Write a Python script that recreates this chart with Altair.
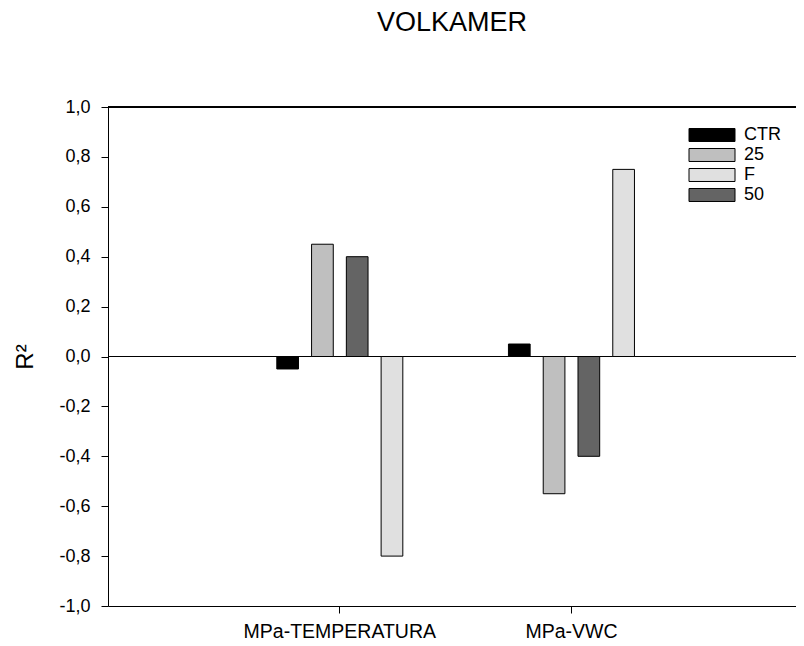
import altair as alt
import pandas as pd

groups = ["MPa-TEMPERATURA", "MPa-VWC"]
series = ["CTR", "25", "50", "F"]
legend_order = ["CTR", "25", "F", "50"]
legend_colors = ["#000000", "#bfbfbf", "#e0e0e0", "#646464"]

ctr_vals = [-0.05, 0.05]
s25_vals = [0.45, -0.55]
s50_vals = [0.40, -0.40]
sF_vals = [-0.80, 0.75]

y_ticks = [-1.0, -0.8, -0.6, -0.4, -0.2, 0.0, 0.2, 0.4, 0.6, 0.8, 1.0]

rows = []
for i, g in enumerate(groups):
    for name, vals in zip(series, [ctr_vals, s25_vals, s50_vals, sF_vals]):
        rows.append({"grupo": g, "serie": name, "r2": vals[i]})
df = pd.DataFrame(rows)

FONT = "Liberation Sans"

base = alt.Chart(df)

bars = base.mark_bar(stroke="black", strokeWidth=1, opacity=1).encode(
    x=alt.X(
        "grupo:N",
        sort=groups,
        scale=alt.Scale(paddingInner=0.456, paddingOuter=0.713, align=0.511),
        axis=alt.Axis(title=None, labelAngle=0, labelFontSize=19.5, tickSize=7,
                      labelPadding=9, labelFont=FONT, labelLimit=0),
    ),
    xOffset=alt.XOffset(
        "serie:N", sort=series,
        scale=alt.Scale(paddingInner=0.376, paddingOuter=0),
    ),
    y=alt.Y(
        "r2:Q",
        scale=alt.Scale(domain=[-1, 1], nice=False, zero=False),
        axis=alt.Axis(
            values=y_ticks,
            title="R²",
            titleFontSize=24,
            titleFont=FONT,
            titleFontWeight="normal",
            titlePadding=21,
            labelFontSize=18,
            labelFont=FONT,
            labelPadding=11,
            tickSize=7,
            labelExpr="replace(replace(format(datum.value, '.1f'), '.', ','), '\u2212', '-')",
        ),
    ),
    color=alt.Color(
        "serie:N",
        scale=alt.Scale(domain=legend_order, range=legend_colors),
        legend=alt.Legend(
            title=None,
            orient="none",
            legendX=595,
            legendY=19,
            symbolType="M-4,-1.13H4V1.13H-4Z",
            symbolSize=132.25,
            symbolStrokeColor="black",
            symbolStrokeWidth=1,
            symbolOpacity=1,
            labelFontSize=18,
            labelFont=FONT,
            labelColor="black",
            labelOffset=23,
            rowPadding=2,
        ),
    ),
)

zero_rule = base.mark_rule(color="black", strokeWidth=1).encode(y=alt.datum(0))
top_rule = base.mark_rule(color="black", strokeWidth=1).encode(y=alt.value(0))

chart = (
    alt.layer(top_rule, zero_rule, bars)
    .properties(
        width=688,
        height=499,
        title=alt.TitleParams(
            "VOLKAMER", fontSize=27, font=FONT, fontWeight="normal",
            color="black", anchor="middle", offset=61,
        ),
        autosize=alt.AutoSizeParams(type="none"),
        padding={"left": 100, "top": 99, "right": 0, "bottom": 37},
    )
    .configure_view(stroke=None)
    .configure_axis(
        grid=False, domainColor="black", tickColor="black", labelColor="black",
        titleColor="black", domainWidth=1, tickWidth=1,
    )
)

chart.save("out.html", embed_options={"renderer": "svg", "actions": False})
